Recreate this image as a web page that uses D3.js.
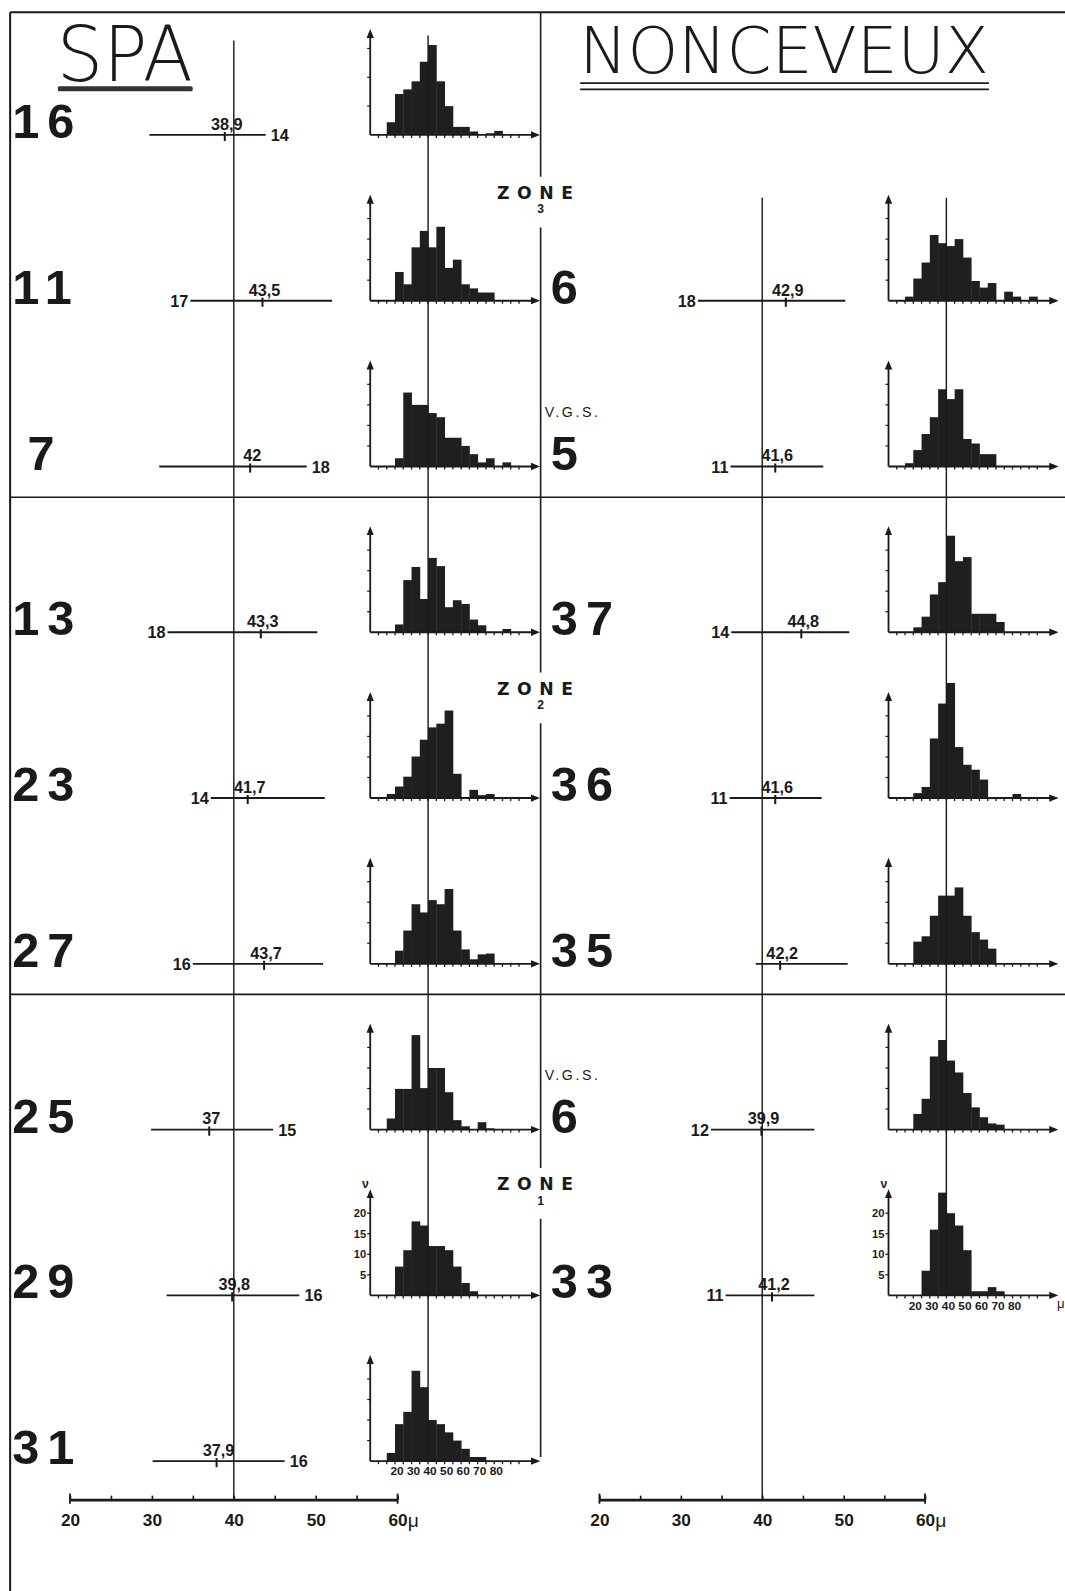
<!DOCTYPE html>
<html><head><meta charset="utf-8">
<script src="https://cdn.jsdelivr.net/npm/d3@7"></script>
<style>body{margin:0;background:#fff} svg{display:block}</style>
</head><body>
<svg id="c" width="1065" height="1591" viewBox="0 0 1050 1568" preserveAspectRatio="none"></svg>
<script>
// ---------------- DATA ----------------
// SPA (left panel), rows top to bottom
const spaSamples   = ["16","11","7","13","23","27","25","29","31"];
const spaMean      = [38.9, 43.5, 42, 43.3, 41.7, 43.7, 37, 39.8, 37.9];
const spaMeanLabel = ["38,9","43,5","42","43,3","41,7","43,7","37","39,8","37,9"];
const spaMin       = [29.7, 34.7, 30.9, 31.9, 37.2, 35.0, 29.9, 31.8, 30.1];
const spaMax       = [43.9, 52.0, 48.9, 50.2, 51.1, 50.9, 44.8, 48.0, 46.2];
const spaEndLabel  = ["14","17","18","18","14","16","15","16","16"];
const spaEndSide   = ["right","left","right","left","left","left","right","right","right"];
// histogram frequencies, 5 µ classes starting at 15 µ (15-20, 20-25, ...)
const spaHist = [
  [2.2, 7.1, 7.9, 9.3, 12.7, 15.6, 9.3, 5, 1.4, 1.4, 0.6, 0, 0.3, 0.7],
  [0, 7, 4, 13, 17, 13, 18, 8, 10, 4, 3, 2, 2],
  [0, 2, 18, 15, 15, 13, 12, 7, 7, 5, 3, 1, 2, 0, 1],
  [0, 1.9, 12.7, 15.9, 8.1, 18.1, 16.1, 6.1, 7.8, 6.9, 3.1, 1.7, 0, 0, 0.8],
  [1, 2.8, 5.2, 10.1, 14.2, 17.2, 18.1, 21.3, 5.9, 0, 2, 0.7, 1],
  [0, 3.2, 8.1, 14.5, 12.5, 15.5, 14.5, 18.2, 8.1, 3.5, 1.1, 2.3, 2.5],
  [2.7, 9.9, 9.9, 23, 10.1, 15, 15, 9.1, 2.3, 0.8, 0, 1.8, 0.3],
  [0, 7, 11, 18, 17, 12, 12, 11, 7, 3, 1],
  [2, 9, 12, 22, 18, 10, 9, 7, 5, 3, 1, 1]
];
const spaHistYMax = [17.6, 24.7, 24.7, 24.7, 24.7, 24.7, 24.7, 24.7, 24.7];

// NONCEVEUX (right panel), rows 2..8
const nonSamples   = ["6","5","37","36","35","6","33"];
const nonMean      = [42.9, 41.6, 44.8, 41.6, 42.2, 39.9, 41.2];
const nonMeanLabel = ["42,9","41,6","44,8","41,6","42,2","39,9","41,2"];
const nonMin       = [32.1, 36.1, 36.2, 36.0, 39.2, 33.7, 35.5];
const nonMax       = [50.2, 47.5, 50.7, 47.3, 50.5, 46.4, 46.4];
const nonEndLabel  = ["18","11","14","11","","12","11"];
const nonHist = [
  [1, 5.4, 9.3, 16, 14, 13.3, 15, 10.5, 4.8, 3.2, 4.3, 0, 2.2, 1, 0, 1],
  [0.8, 4, 7.9, 12, 18.8, 16.4, 18.8, 6.7, 5.6, 3, 3],
  [0, 1.2, 3.8, 9.2, 12.2, 23.5, 17.3, 18.3, 4.5, 4.5, 4.5, 2.5],
  [0, 1.2, 2.7, 14.5, 23, 28, 12.4, 8.1, 6.9, 4.5, 0, 0, 0, 1],
  [0, 5.4, 6.7, 11.7, 16.6, 16.6, 18.6, 11.7, 7.7, 5.9, 3.7],
  [0, 3.8, 7.5, 17.8, 21.8, 16.8, 13.9, 8.9, 5.4, 3, 1.5, 1.2],
  [0, 0, 6, 16, 25, 20, 17, 11, 1, 1, 2, 1]
];
const nonHistYMax = [24.7, 24.7, 24.7, 24.7, 24.7, 24.7, 24.7];

const scaleTicks = [20, 30, 40, 50, 60];
const histXLabels = [20, 30, 40, 50, 60, 70, 80];
const histYLabels = [5, 10, 15, 20];
const zones = [{name:"ZONE", num:"3", row:0.35}, {name:"ZONE", num:"2", row:3.34}, {name:"ZONE", num:"1", row:6.33}];
const vgs = [{text:"V.G.S.", row:1.67}, {text:"V.G.S.", row:5.67}];
const titles = ["SPA", "NONCEVEUX"];

// ---------------- LAYOUT ----------------
const svg = d3.select("#c");
const FONT = "'Liberation Sans', Arial, sans-serif";
const INK = "#1a1a1a";
const rowY = d3.scaleLinear().domain([0, 8]).range([133, 1440]);
const spaX = d3.scaleLinear().domain([20, 60]).range([69, 392]);
const nonX = d3.scaleLinear().domain([20, 60]).range([591, 912]);
const axisY = 1478;
const spaHistOrigin = 365, nonHistOrigin = 876;
const histDomain = [5, 105], histW = 163, histH = 100, binStart = 15, binW = 5;

const defs = svg.append("defs");
defs.append("marker").attr("id","arr").attr("viewBox","0 0 10 10").attr("refX",5).attr("refY",5)
  .attr("markerWidth",5).attr("markerHeight",5).attr("orient","auto")
  .append("path").attr("d","M0,1 L10,5 L0,9 Z").attr("fill",INK);

const line = (x1,y1,x2,y2,w=1.5) => svg.append("line").attr("x1",x1).attr("y1",y1).attr("x2",x2).attr("y2",y2)
  .attr("stroke",INK).attr("stroke-width",w);

// frame
line(10, 12, 1050, 12, 2);
line(10, 12, 10, 1568, 2);
line(10, 490, 1050, 490, 1.6);
line(10, 980, 1050, 980, 1.6);
// central divider with gaps at the zone labels
{
  const gaps = zones.map(z => rowY(z.row));
  let y0 = 12;
  gaps.forEach(gy => { line(533, y0, 533, gy - 16, 1.6); y0 = gy + 34; });
  line(533, y0, 533, rowY(8) - 4, 1.6);
}

// titles
svg.append("text").text(titles[0]).attr("x",56).attr("y",80).attr("font-family","'DejaVu Sans', sans-serif")
  .attr("font-weight",200).attr("font-size",75).attr("textLength",134).attr("lengthAdjust","spacingAndGlyphs").attr("fill",INK);
svg.append("rect").attr("x",57).attr("y",85).attr("width",133).attr("height",5).attr("fill","#333").attr("rx",1.5);
svg.append("text").text(titles[1]).attr("x",571).attr("y",72).attr("font-family","'DejaVu Sans', sans-serif")
  .attr("font-weight",200).attr("font-size",64).attr("textLength",404).attr("lengthAdjust","spacingAndGlyphs").attr("fill",INK);
line(572, 82, 975, 82, 1.8);
line(572, 88, 975, 88, 1.8);

// zone labels
zones.forEach(z => {
  const y = rowY(z.row);
  svg.append("text").text(z.name).attr("x",490).attr("y",y+6).attr("font-family","'DejaVu Sans', sans-serif")
    .attr("font-weight","bold").attr("font-size",17).attr("textLength",75).attr("lengthAdjust","spacing").attr("fill",INK);
  svg.append("text").text(z.num).attr("x",533).attr("y",y+20).attr("text-anchor","middle").attr("font-family",FONT)
    .attr("font-weight","bold").attr("font-size",12).attr("fill",INK);
});
vgs.forEach(v => {
  svg.append("text").text(v.text).attr("x",537).attr("y",rowY(v.row)+5).attr("font-family",FONT)
    .attr("font-size",14).attr("letter-spacing",2.5).attr("fill",INK);
});

// reference vertical lines (40 µ)
line(spaX(40), 40, spaX(40), axisY, 1.4);
line(nonX(40), 195, nonX(40), axisY, 1.4);

// bottom scales
function bottomAxis(scale) {
  const g = svg.append("g").attr("transform",`translate(0,${axisY})`);
  g.call(d3.axisBottom(scale).tickValues(d3.range(20, 61, 5)).tickSize(-4).tickSizeOuter(0)
     .tickFormat(d => scaleTicks.includes(d) ? d : ""));
  g.select(".domain").attr("stroke",INK).attr("stroke-width",2.6);
  g.selectAll(".tick line").attr("stroke",INK).attr("stroke-width",1.6);
  g.selectAll(".tick text").attr("dy","0.71em").attr("y",14).attr("font-family",FONT)
    .attr("font-weight","bold").attr("font-size",17).attr("fill",INK);
  [20, 60].forEach(v => line(scale(v), axisY - 6, scale(v), axisY + 4, 1.8));
  svg.append("text").text("μ").attr("x",scale(60)+10).attr("y",axisY+27).attr("font-family",FONT)
    .attr("font-size",19).attr("fill",INK);
}
bottomAxis(spaX);
bottomAxis(nonX);

// histogram
function histogram(ox, oy, counts, yMax, opts = {}) {
  const hx = d3.scaleLinear().domain(histDomain).range([ox, ox + histW]);
  const hy = d3.scaleLinear().domain([0, yMax]).range([oy, oy - histH]);
  const g = svg.append("g");
  g.selectAll("rect").data(counts).join("rect")
    .attr("x", (d, i) => hx(binStart + binW * i))
    .attr("width", hx(binStart + binW) - hx(binStart) + 0.4)
    .attr("y", d => hy(d)).attr("height", d => oy - hy(d))
    .attr("fill", "#1f1f1f");
  g.append("line").attr("x1",ox).attr("y1",oy).attr("x2",hx(histDomain[1])).attr("y2",oy)
    .attr("stroke",INK).attr("stroke-width",1.8).attr("marker-end","url(#arr)");
  g.append("line").attr("x1",ox).attr("y1",oy).attr("x2",ox).attr("y2",hy(yMax))
    .attr("stroke",INK).attr("stroke-width",1.8).attr("marker-end","url(#arr)");
  histYLabels.filter(v => v < yMax).forEach(v => {
    g.append("line").attr("x1",ox-3).attr("x2",ox).attr("y1",hy(v)).attr("y2",hy(v)).attr("stroke",INK).attr("stroke-width",1.2);
    if (opts.yLabels) g.append("text").text(v).attr("x",ox-4).attr("y",hy(v)+4).attr("text-anchor","end")
      .attr("font-family",FONT).attr("font-weight","bold").attr("font-size",11).attr("fill",INK);
  });
  if (opts.yLabels) g.append("text").text("ν").attr("x",ox-8).attr("y",hy(yMax)-6).attr("font-family",FONT)
    .attr("font-weight","bold").attr("font-size",12).attr("fill",INK);
  d3.range(10, 100, 5).forEach(v => {
    g.append("line").attr("x1",hx(v)).attr("x2",hx(v)).attr("y1",oy).attr("y2",oy+3).attr("stroke",INK).attr("stroke-width",1.3);
  });
  if (opts.xLabels) {
    histXLabels.forEach(v => g.append("text").text(v).attr("x",hx(v)+2).attr("y",oy+14).attr("text-anchor","middle")
      .attr("font-family",FONT).attr("font-weight","bold").attr("font-size",10).attr("textLength",13)
      .attr("lengthAdjust","spacingAndGlyphs").attr("fill",INK));
  }
  if (opts.mu) g.append("text").text("μ").attr("x",hx(histDomain[1])+3).attr("y",oy+12).attr("font-family",FONT)
    .attr("font-size",13).attr("fill",INK);
  return hx;
}

// range line with mean
function rangeRow(scale, y, mn, mx, mean, meanLabel, endLabel, side) {
  line(scale(mn), y, scale(mx), y, 1.8);
  line(scale(mean), y - 3, scale(mean), y + 6, 2);
  svg.append("text").text(meanLabel).attr("x",scale(mean)+2).attr("y",y-5).attr("text-anchor","middle")
    .attr("font-family",FONT).attr("font-weight","bold").attr("font-size",16).attr("fill",INK);
  if (endLabel) {
    const left = side === "left";
    svg.append("text").text(endLabel).attr("x", left ? scale(mn) - 2 : scale(mx) + 5).attr("y", y + 6)
      .attr("text-anchor", left ? "end" : "start").attr("font-family",FONT).attr("font-weight","bold")
      .attr("font-size",16).attr("fill",INK);
  }
}

function bigNumber(text, x, y) {
  svg.append("text").text(text).attr("x",x).attr("y",y).attr("font-family",FONT).attr("font-weight","bold")
    .attr("font-size",48).attr("letter-spacing",8).attr("fill",INK);
}

// SPA rows
let spaHx;
spaSamples.forEach((s, i) => {
  const y = rowY(i);
  bigNumber(s, s === "7" ? 27 : 12, y + 3);
  rangeRow(spaX, y, spaMin[i], spaMax[i], spaMean[i], spaMeanLabel[i], spaEndLabel[i], spaEndSide[i]);
  spaHx = histogram(spaHistOrigin, y, spaHist[i], spaHistYMax[i],
    {yLabels: s === "29", xLabels: i === spaSamples.length - 1});
});
line(spaHx(40), 35, spaHx(40), rowY(8), 1.4);

// NONCEVEUX rows
let nonHx;
nonSamples.forEach((s, j) => {
  const y = rowY(j + 1);
  bigNumber(s, 543, y + 3);
  rangeRow(nonX, y, nonMin[j], nonMax[j], nonMean[j], nonMeanLabel[j], nonEndLabel[j], "left");
  const last = j === nonSamples.length - 1;
  nonHx = histogram(nonHistOrigin, y, nonHist[j], nonHistYMax[j], {yLabels: last, xLabels: last, mu: last});
});
line(nonHx(40), 195, nonHx(40), rowY(7), 1.4);
</script>
</body></html>
